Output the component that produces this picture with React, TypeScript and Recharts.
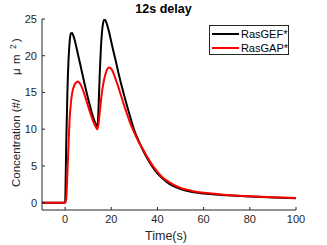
import React from 'react';
import { LineChart, Line, XAxis, YAxis, Legend, Label, Customized } from 'recharts';

const times = [-10, 0, 0.5, 1, 1.5, 2, 2.5, 3, 4, 5, 5.5, 6, 7, 8, 9, 10, 11, 12, 13, 14, 14.5, 15, 15.5, 16, 16.5, 17, 17.5, 18, 19, 20, 21, 22, 23, 24, 25, 26, 27, 28, 29, 30, 32, 34, 36, 38, 40, 42, 45, 50, 55, 60, 65, 70, 80, 90, 100];
const rasGEF = [0, 0, 8, 15, 19.5, 22, 23, 23.1, 22.3, 21, 20.3, 19.6, 18.2, 16.8, 15.4, 14.1, 12.9, 11.8, 10.9, 10.3, 13, 17.5, 21, 23.3, 24.5, 24.9, 24.8, 24.4, 23.3, 21.9, 20.5, 19.2, 17.8, 16.5, 15.3, 14.1, 13.0, 11.9, 10.8, 9.8, 8.3, 6.95, 5.8, 4.8, 4.0, 3.35, 2.6, 1.85, 1.45, 1.25, 1.1, 1.0, 0.83, 0.7, 0.6];
const rasGAP = [0, 0, 0.5, 4, 8, 11.5, 13.5, 14.8, 16, 16.4, 16.5, 16.4, 15.9, 15.1, 14.1, 13.1, 12.1, 11.2, 10.5, 10.0, 10.8, 12.3, 13.8, 15.1, 16.1, 16.9, 17.5, 18.0, 18.4, 18.2, 17.6, 16.7, 15.8, 14.8, 13.8, 12.8, 11.9, 11.0, 10.2, 9.5, 8.2, 7.1, 6.0, 5.0, 4.2, 3.5, 2.8, 2.0, 1.6, 1.35, 1.2, 1.05, 0.88, 0.74, 0.62];
const xTicks = [0, 20, 40, 60, 80, 100];
const yTicks = [0, 5, 10, 15, 20, 25];
const seriesNames = ['RasGEF*', 'RasGAP*'];
const seriesColors = ['#000000', '#ff0000'];

const data = times.map((t, i) => ({ t, gef: rasGEF[i], gap: rasGAP[i] }));

const FONT = '"Liberation Sans", Arial, Helvetica, sans-serif';
const AXIS = '#262626';

const LegendBox = () => (
  <div style={{ border: `1px solid ${AXIS}`, background: '#fff', width: 80, height: 30, boxSizing: 'border-box', padding: '1px 0 0 2px', fontFamily: FONT, fontSize: 11, color: '#000' }}>
    {seriesNames.map((n, i) => (
      <div key={n} style={{ display: 'flex', alignItems: 'center', height: 14 }}>
        <svg width={28} height={4} style={{ marginRight: 1 }}>
          <line x1={0} y1={2} x2={27} y2={2} stroke={seriesColors[i]} strokeWidth={2} />
        </svg>
        <span>{n}</span>
      </div>
    ))}
  </div>
);

// MATLAB-style tex label, pieces spaced the way the original renders them
const YLabel = () => (
  <text transform="rotate(-90, 20, 187)" x={20} y={187} fontFamily={FONT} fontSize={11.5} fill={AXIS}>
    <tspan x={20}>Concentration (#/</tspan>
    <tspan x={132}>μ</tspan>
    <tspan x={143}>m</tspan>
    <tspan x={158} dy={-4} fontSize={8.5}>2</tspan>
    <tspan x={165} dy={4}>)</tspan>
  </text>
);

const Title = () => (
  <text x={163.5} y={13} textAnchor="middle" fontFamily={FONT} fontSize={12.5} fontWeight="bold" fill="#000">
    12s delay
  </text>
);

export default function App() {
  return (
    <div style={{ position: 'absolute', left: 0, top: 0, background: '#fff' }}>
      <LineChart width={327} height={245} data={data} margin={{ top: 19, right: 31, bottom: 0, left: 0 }}>
        <XAxis dataKey="t" type="number" domain={[-10, 100]} ticks={xTicks} allowDataOverflow
          height={35} tickSize={-3} tickMargin={8} stroke={AXIS}
          tick={{ fill: AXIS, fontSize: 11, fontFamily: FONT }}>
          <Label value="Time(s)" position="insideBottom" offset={5} dx={-3} fill={AXIS} fontSize={12.5} fontFamily={FONT} />
        </XAxis>
        <XAxis xAxisId="top" orientation="top" dataKey="t" type="number" domain={[-10, 100]} ticks={xTicks}
          allowDataOverflow height={0} tickSize={-3} tick={false} stroke={AXIS} />
        <YAxis domain={[-1, 25]} ticks={yTicks} allowDataOverflow width={42} tickSize={-3} tickMargin={8}
          stroke={AXIS} tick={{ fill: AXIS, fontSize: 11, fontFamily: FONT }} />
        <YAxis yAxisId="right" orientation="right" domain={[-1, 25]} ticks={yTicks} allowDataOverflow
          width={0} tickSize={-3} tick={false} stroke={AXIS} />
        <Legend layout="vertical" align="center" verticalAlign="middle" content={() => <LegendBox />}
          wrapperStyle={{ top: 25, left: 209, width: 80 }} />
        <Line type="monotone" dataKey="gef" name={seriesNames[0]} stroke={seriesColors[0]} strokeWidth={2} dot={false} isAnimationActive={false} />
        <Line type="monotone" dataKey="gap" name={seriesNames[1]} stroke={seriesColors[1]} strokeWidth={2} dot={false} isAnimationActive={false} />
        <Customized component={<YLabel />} />
        <Customized component={<Title />} />
      </LineChart>
    </div>
  );
}
